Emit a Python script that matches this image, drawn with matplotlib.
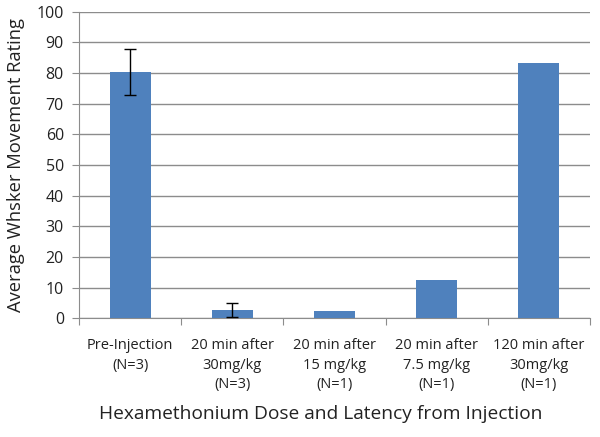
import numpy as np
import matplotlib.pyplot as plt

plt.rcParams['font.family'] = ['Open Sans', 'DejaVu Sans']

categories = ['Pre-Injection\n(N=3)', '20 min after\n30mg/kg\n(N=3)', '20 min after\n15 mg/kg\n(N=1)',
              '20 min after\n7.5 mg/kg\n(N=1)', '120 min after\n30mg/kg\n(N=1)']
values = [80.5, 2.7, 2.2, 12.3, 83.3]
errors = [7.5, 2.4, 0, 0, 0]

fig = plt.figure(figsize=(6, 4.37), dpi=100)
ax = fig.add_axes([0.132, 0.272, 0.851, 0.701])
x = np.arange(len(categories))
ax.bar(x, values, width=0.4, color='#4f81bd', zorder=3)
err_idx = [i for i, e in enumerate(errors) if e > 0]
ax.errorbar(x[err_idx], [values[i] for i in err_idx], yerr=[errors[i] for i in err_idx],
            fmt='none', ecolor='black', elinewidth=1, capsize=4, capthick=1, zorder=4)

ax.set_xlim(-0.5, len(categories) - 0.5)
ax.set_ylim(0, 100)
ax.set_yticks(range(0, 101, 10))
ax.yaxis.grid(True, color='#8c8c8c', linewidth=1)
ax.set_axisbelow(True)
for s in ['top', 'right']:
    ax.spines[s].set_visible(False)
for s in ['left', 'bottom']:
    ax.spines[s].set_color('#8c8c8c')
ax.set_xticks(np.arange(-0.5, len(categories), 1))
ax.set_xticklabels([])
ax.set_xticks(x, minor=True)
ax.set_xticklabels(categories, minor=True, fontsize=10.5, color='#222222', va='top', linespacing=1.45)
ax.tick_params(axis='x', which='minor', length=0, pad=14)
ax.tick_params(axis='x', which='major', length=5, color='#8c8c8c', direction='out')
ax.tick_params(axis='y', length=5, color='#8c8c8c', labelsize=11.5, labelcolor='#222222', pad=6)

ax.set_ylabel('Average Whsker Movement Rating', fontsize=13.2, color='#222222')
ax.yaxis.set_label_coords(-0.106, 0.5)
ax.set_xlabel('Hexamethonium Dose and Latency from Injection', fontsize=13.8, color='#222222')
ax.xaxis.set_label_coords(0.472, -0.282)

fig.savefig('out.png', dpi=100)
